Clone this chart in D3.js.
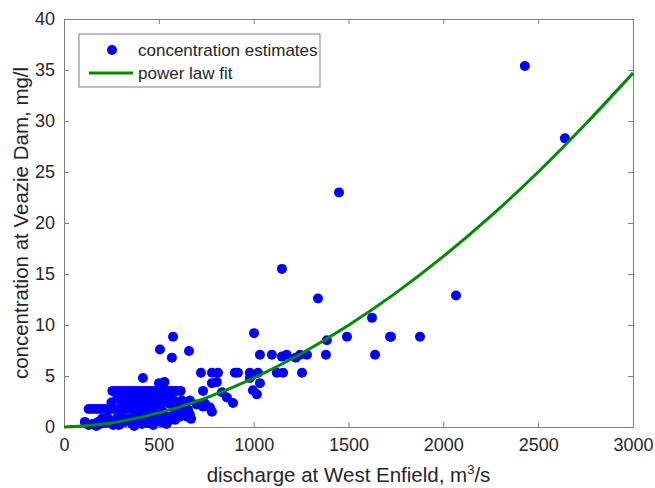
<!DOCTYPE html>
<html>
<head>
<meta charset="utf-8">
<script src="https://cdn.jsdelivr.net/npm/d3@7"></script>
<style>
  body { margin: 0; background: #fff; }
  svg text { font-family: "Liberation Sans", Arial, sans-serif; fill: #262626; }
</style>
</head>
<body>
<div id="chart"></div>
<script>
// discharge (m3/s) and concentration (mg/l) estimates
var discharge = [
  2430, 2641, 1450, 1149, 1339, 2067, 1624, 1386, 1002, 506, 659, 575, 1492, 1719, 1877, 1724,
  569, 1149, 1222, 1033, 1096, 1174, 1245, 1281, 1381, 1640,
  722, 780, 812, 901, 917, 980, 1023, 1122, 1155, 1255,
  416, 501, 530, 780, 806, 833, 859, 891, 980, 1033, 1017, 996, 733,
  664, 654, 670, 700, 743, 770, 780, 585, 622, 733, 664, 559, 522, 596, 464, 585,
  255, 275, 295, 315, 335, 355, 375, 395, 415, 435, 455, 475, 495, 515, 535, 555, 575, 595, 615,
  130, 150, 170, 190, 210, 230, 250, 270, 290, 310, 330, 350, 370, 390, 410, 430, 450, 469,
  110, 150, 180, 200, 220, 240, 260, 280, 300, 320, 340, 360, 380, 400, 420, 440, 460, 480, 500, 520, 540, 560,
  300, 330, 360, 380, 400, 420, 440, 460, 480, 520, 540, 580, 600, 640,
  130, 170, 190, 230, 270, 290, 310, 350, 370, 390, 410, 430, 450, 470, 490, 510, 530, 550, 580, 610, 630, 650,
  250, 280, 320, 350, 390, 430, 470, 500, 560
];
var concentration = [
  35.4, 28.3, 23.0, 15.5, 12.6, 12.9, 10.7, 8.5, 9.2, 7.6, 7.45, 8.85, 8.85, 8.85, 8.85, 8.85,
  6.8, 6.9, 6.8, 7.08, 7.08, 7.08, 7.08, 7.08, 7.08, 7.08,
  5.31, 5.31, 5.31, 5.31, 5.31, 5.31, 5.31, 5.31, 5.31, 5.31,
  4.8, 4.3, 4.4, 4.3, 4.4, 3.4, 2.9, 2.35, 4.8, 4.3, 3.2, 3.6, 3.54,
  2.6, 1.7, 0.8, 2.2, 2.3, 1.9, 1.5, 1.7, 2.6, 2.0, 1.2, 2.25, 1.5, 1.5, 0.9, 0.7,
  3.54, 3.54, 3.54, 3.54, 3.54, 3.54, 3.54, 3.54, 3.54, 3.54, 3.54, 3.54, 3.54, 3.54, 3.54, 3.54, 3.54, 3.54, 3.54,
  1.77, 1.77, 1.77, 1.77, 1.77, 1.77, 1.77, 1.77, 1.77, 1.77, 1.77, 1.77, 1.77, 1.77, 1.77, 1.77, 1.77, 1.7,
  0.5, 0.3, 0.5, 0.8, 0.4, 0.6, 0.2, 0.9, 1.1, 0.5, 0.8, 0.3, 1.2, 0.6, 1.0, 0.4, 0.9, 0.5, 1.2, 0.8, 0.3, 1.0,
  2.6, 2.2, 2.8, 2.4, 2.0, 2.7, 3.0, 2.3, 2.6, 2.8, 2.4, 2.6, 2.2, 2.0,
  0.2, 0.1, 0.3, 0.9, 0.4, 0.2, 0.8, 0.6, 0.1, 0.9, 0.3, 0.7, 1.3, 0.2, 0.9, 0.5, 1.1, 0.6, 1.2, 1.0, 1.4, 1.0,
  2.4, 2.8, 3.0, 2.4, 2.9, 2.3, 2.9, 2.2, 2.9
];

// power law fit curve
var fitDischarge = [0, 250, 500, 750, 1000, 1250, 1500, 1750, 2000, 2250, 2500, 2750, 3000];
var fitConcentration = [0, 0.40, 1.38, 2.86, 4.80, 7.18, 9.97, 13.15, 16.72, 20.67, 25.0, 29.7, 34.7];

var xTicks = [0, 500, 1000, 1500, 2000, 2500, 3000];
var yTicks = [0, 5, 10, 15, 20, 25, 30, 35, 40];

var margin = {top: 19, right: 22, bottom: 61, left: 64},
    width = 655 - margin.left - margin.right,
    height = 488 - margin.top - margin.bottom;

var svg = d3.select("#chart").append("svg")
    .attr("width", 655)
    .attr("height", 488);

var g = svg.append("g")
    .attr("transform", "translate(" + margin.left + "," + margin.top + ")");

var x = d3.scaleLinear().domain([0, 3000]).range([0, width]);
var y = d3.scaleLinear().domain([0, 40]).range([height, 0]);

var axisColor = "#808080";
var fmt = d3.format("d");

// box + inward ticks
function styleAxis(sel) {
  sel.select(".domain").attr("stroke", axisColor);
  sel.selectAll(".tick line").attr("stroke", axisColor);
  sel.selectAll(".tick text").attr("font-size", 18).attr("fill", "#262626");
}

g.append("g")
    .attr("transform", "translate(0," + height + ")")
    .call(d3.axisBottom(x).tickValues(xTicks).tickFormat(fmt).tickSizeInner(-5).tickSizeOuter(0).tickPadding(11))
    .call(styleAxis);
g.append("g")
    .call(d3.axisTop(x).tickValues(xTicks).tickSizeInner(-5).tickSizeOuter(0).tickFormat(""))
    .call(styleAxis);
g.append("g")
    .call(d3.axisLeft(y).tickValues(yTicks).tickFormat(fmt).tickSizeInner(-5).tickSizeOuter(0).tickPadding(9))
    .call(styleAxis);
g.append("g")
    .attr("transform", "translate(" + width + ",0)")
    .call(d3.axisRight(y).tickValues(yTicks).tickSizeInner(-5).tickSizeOuter(0).tickFormat(""))
    .call(styleAxis);

// scatter
var points = discharge.map(function(d, i) { return {x: d, y: concentration[i]}; });
g.selectAll(".dot")
    .data(points)
  .enter().append("circle")
    .attr("class", "dot")
    .attr("cx", function(d) { return x(d.x); })
    .attr("cy", function(d) { return y(d.y); })
    .attr("r", 5)
    .attr("fill", "#0000ff");

// fit line
var fit = fitDischarge.map(function(d, i) { return {x: d, y: fitConcentration[i]}; });
var line = d3.line()
    .x(function(d) { return x(d.x); })
    .y(function(d) { return y(d.y); })
    .curve(d3.curveMonotoneX);
g.append("path")
    .datum(fit)
    .attr("fill", "none")
    .attr("stroke", "#008a00")
    .attr("stroke-width", 3)
    .attr("d", line);

// legend
var leg = svg.append("g").attr("transform", "translate(79,34)");
leg.append("rect")
    .attr("width", 241).attr("height", 53)
    .attr("fill", "#fff").attr("stroke", axisColor).attr("stroke-width", 1);
leg.append("circle").attr("cx", 33).attr("cy", 16).attr("r", 5).attr("fill", "#0000ff");
leg.append("text").attr("x", 59).attr("y", 22).attr("font-size", 17).text("concentration estimates");
leg.append("line").attr("x1", 10).attr("x2", 54).attr("y1", 39).attr("y2", 39)
    .attr("stroke", "#008a00").attr("stroke-width", 3);
leg.append("text").attr("x", 59).attr("y", 45).attr("font-size", 17).text("power law fit");

// axis titles
var xl = svg.append("text")
    .attr("x", margin.left + width / 2)
    .attr("y", 482)
    .attr("text-anchor", "middle")
    .attr("font-size", 20.5);
xl.append("tspan").text("discharge at West Enfield, m");
xl.append("tspan").attr("dy", -8).attr("font-size", 13).text("3");
xl.append("tspan").attr("dy", 8).text("/s");

svg.append("text")
    .attr("transform", "translate(28," + (margin.top + height / 2) + ") rotate(-90)")
    .attr("text-anchor", "middle")
    .attr("font-size", 20.5)
    .text("concentration at Veazie Dam, mg/l");
</script>
</body>
</html>
